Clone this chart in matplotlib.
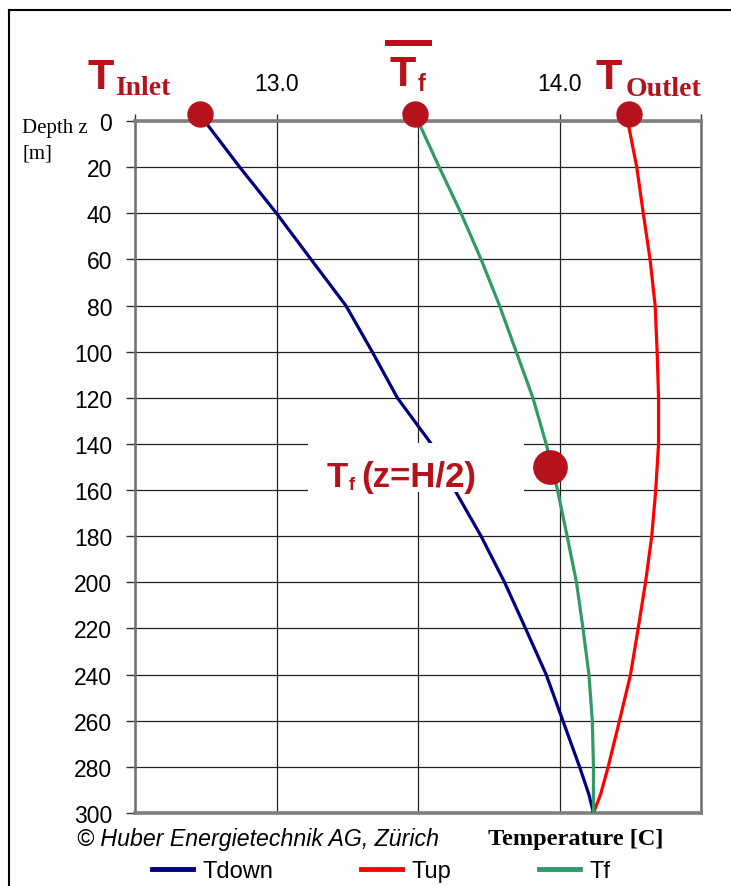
import matplotlib.pyplot as plt
from matplotlib.lines import Line2D
from matplotlib.patches import Rectangle

W, H = 731, 887

# depth [m] and fluid temperatures [C]
depth = [0, 20, 40, 60, 80, 100, 120, 140, 160, 180, 200, 220, 240, 260, 280, 292, 300]
t_down = [12.746, 12.870, 13.0, 13.122, 13.245, 13.338, 13.427, 13.547, 13.63,
          13.723, 13.806, 13.88, 13.953, 14.012, 14.071, 14.104, 14.12]
t_up = [14.241, 14.273, 14.296, 14.32, 14.338, 14.345, 14.35, 14.35, 14.34,
        14.326, 14.304, 14.278, 14.251, 14.212, 14.172, 14.145, 14.12]
t_f = [13.5, 13.575, 13.652, 13.723, 13.788, 13.847, 13.906, 13.953, 13.993,
       14.027, 14.06, 14.083, 14.104, 14.116, 14.12, 14.12, 14.12]

# marked points: inlet, mean fluid, outlet, fluid at mid depth
mark_T = [12.73, 13.49, 14.245]
mark_z = [-3, -3, -3]
mid_T, mid_z = 13.965, 150

x_ticks = [12.5, 13.0, 13.5, 14.0, 14.5]
x_labels = ["", "13.0", "", "14.0", ""]
y_ticks = list(range(0, 301, 20))

DARKRED = "#B5121B"
SANS = "Liberation Sans"
SERIF = "Liberation Serif"


def fx(x):
    return x / W


def fy(y):
    return 1 - y / H


fig = plt.figure(figsize=(W / 100, H / 100), dpi=100)
ax = fig.add_axes([fx(135), fy(814), (701 - 135) / W, (814 - 122) / H])

ax.plot(t_down, depth, color="#000080", lw=2.3, zorder=3)
ax.plot(t_up, depth, color="#FF0000", lw=2.3, zorder=3)
ax.plot(t_f, depth, color="#339966", lw=2.3, zorder=3)

# white label box hides grid and Tdown line
ax.add_patch(Rectangle((fx(308), fy(493)), (524 - 308) / W, (493 - 444) / H,
                       transform=fig.transFigure, facecolor="white",
                       edgecolor="none", zorder=4))

ax.plot(mark_T, mark_z, "o", color=DARKRED, ms=19, mec="none",
        clip_on=False, zorder=5)
ax.plot([mid_T], [mid_z], "o", color=DARKRED, ms=25, mec="none",
        clip_on=False, zorder=5)

ax.set_xlim(12.5, 14.5)
ax.set_ylim(300, 0)
ax.xaxis.tick_top()
ax.set_xticks(x_ticks)
ax.set_xticklabels(x_labels)
ax.set_yticks(y_ticks)
ax.tick_params(axis="x", direction="out", length=5, width=1, pad=14,
               labelsize=16.5, color="#333333")
ax.tick_params(axis="y", direction="out", length=6.5, width=1, pad=10,
               labelsize=16.5, color="#333333")
for lab in ax.get_xticklabels() + ax.get_yticklabels():
    lab.set_family(SANS)

ax.grid(True, color="#222222", lw=0.9, zorder=1)
ax.set_axisbelow(True)
for side in ["top", "bottom"]:
    ax.spines[side].set_color("#7f7f7f")
    ax.spines[side].set_linewidth(2.6)
for side in ["left", "right"]:
    ax.spines[side].set_color("#6f6f6f")
    ax.spines[side].set_linewidth(1.8)

# outer frame (top and left edges visible)
fig.add_artist(Line2D([fx(9), 1], [fy(11), fy(11)], color="black", lw=1.5))
fig.add_artist(Line2D([fx(9), fx(9)], [fy(11), 0], color="black", lw=1.5))

# headline annotations
fig.text(fx(87), fy(89), "T", fontsize=31, fontweight="bold", color=DARKRED,
         family=SANS, va="baseline")
fig.text(fx(115), fy(95), "Inlet", fontsize=20, fontweight="bold",
         color=DARKRED, family=SERIF, va="baseline")
fig.text(fx(389), fy(86), "T", fontsize=31, fontweight="bold", color=DARKRED,
         family=SANS, va="baseline")
fig.text(fx(418), fy(91), "f", fontsize=17, fontweight="bold", color=DARKRED,
         family=SANS, va="baseline")
fig.add_artist(Rectangle((fx(385), fy(47)), (432 - 385) / W, 6 / H,
                         transform=fig.transFigure, facecolor=DARKRED,
                         edgecolor="none"))
fig.text(fx(596), fy(89), "T", fontsize=31, fontweight="bold", color=DARKRED,
         family=SANS, va="baseline")
fig.text(fx(626), fy(96), "Outlet", fontsize=20, fontweight="bold",
         color=DARKRED, family=SERIF, va="baseline")

fig.text(fx(327), fy(487), "T", fontsize=25, fontweight="bold", color=DARKRED,
         family=SANS, va="baseline", zorder=6)
fig.text(fx(349), fy(490), "f", fontsize=13, fontweight="bold", color=DARKRED,
         family=SANS, va="baseline", zorder=6)
fig.text(fx(361), fy(487), "(z=H/2)", fontsize=25, fontweight="bold",
         color=DARKRED, family=SANS, va="baseline", zorder=6)

fig.text(fx(22), fy(133), "Depth z", fontsize=15, family=SERIF, va="baseline")
fig.text(fx(22), fy(159), "[m]", fontsize=15, family=SERIF, va="baseline")

fig.text(fx(77), fy(846), "\u00a9 Huber Energietechnik AG, Z\u00fcrich",
         fontsize=16.7, style="italic", family=SANS, va="baseline")
fig.text(fx(488), fy(845), "Temperature [C]", fontsize=17.6, fontweight="bold",
         family=SERIF, va="baseline")

handles = [Line2D([], [], color="#000080", lw=3.5),
           Line2D([], [], color="#FF0000", lw=3.5),
           Line2D([], [], color="#339966", lw=3.5)]
fig.legend(handles, ["Tdown", "Tup", "Tf"], loc="center",
           bbox_to_anchor=(fx(381), fy(872)), ncol=3, frameon=False,
           prop={"family": SANS, "size": 17}, handlelength=1.75,
           handletextpad=0.4, columnspacing=3.7, borderaxespad=0)

fig.savefig("out.png", dpi=100)
